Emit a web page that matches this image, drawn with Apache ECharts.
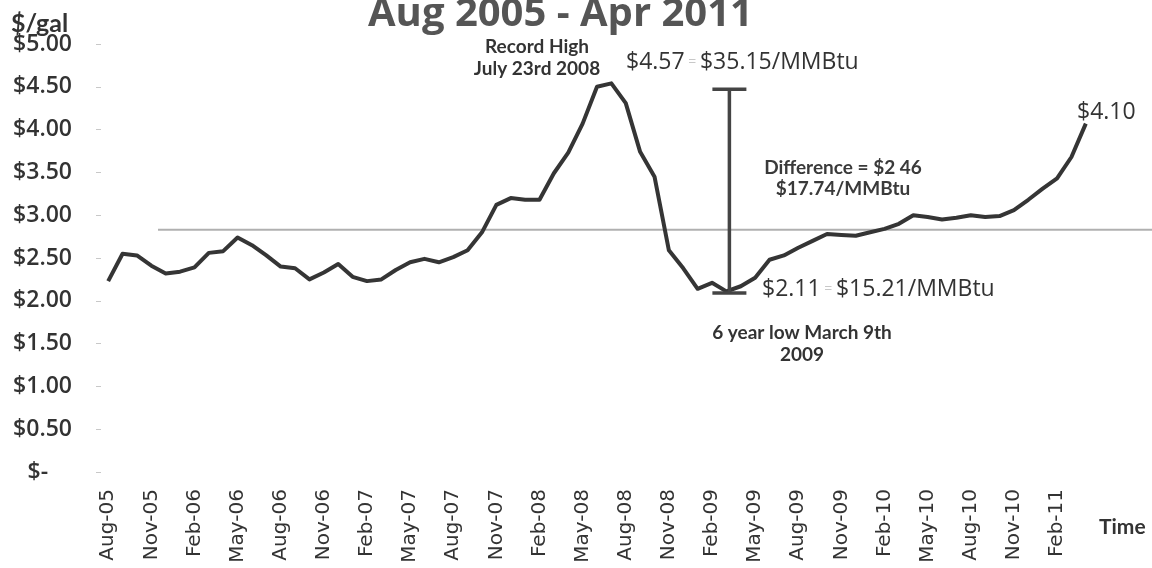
<!DOCTYPE html>
<html><head><meta charset="utf-8">
<script src="https://cdn.jsdelivr.net/npm/echarts@6/dist/echarts.min.js"></script>
<style>html,body{margin:0;padding:0;background:#fff}#c{width:1152px;height:568px}</style>
</head><body><div id="c"></div>
<script>
const months = [
  'Aug-05','Sep-05','Oct-05','Nov-05','Dec-05',
  'Jan-06','Feb-06','Mar-06','Apr-06','May-06','Jun-06','Jul-06','Aug-06','Sep-06','Oct-06','Nov-06','Dec-06',
  'Jan-07','Feb-07','Mar-07','Apr-07','May-07','Jun-07','Jul-07','Aug-07','Sep-07','Oct-07','Nov-07','Dec-07',
  'Jan-08','Feb-08','Mar-08','Apr-08','May-08','Jun-08','Jul-08','Aug-08','Sep-08','Oct-08','Nov-08','Dec-08',
  'Jan-09','Feb-09','Mar-09','Apr-09','May-09','Jun-09','Jul-09','Aug-09','Sep-09','Oct-09','Nov-09','Dec-09',
  'Jan-10','Feb-10','Mar-10','Apr-10','May-10','Jun-10','Jul-10','Aug-10','Sep-10','Oct-10','Nov-10','Dec-10',
  'Jan-11','Feb-11','Mar-11','Apr-11'
];
const prices = [
  2.23, 2.55, 2.53, 2.41, 2.32,
  2.34, 2.39, 2.56, 2.58, 2.74, 2.65, 2.53, 2.40, 2.38, 2.25, 2.33, 2.43,
  2.28, 2.23, 2.25, 2.36, 2.45, 2.49, 2.45, 2.51, 2.59, 2.80, 3.12, 3.20,
  3.18, 3.18, 3.49, 3.73, 4.07, 4.50, 4.54, 4.31, 3.74, 3.45, 2.59, 2.38,
  2.14, 2.21, 2.11, 2.17, 2.27, 2.48, 2.53, 2.62, 2.70, 2.78, 2.77, 2.76,
  2.80, 2.84, 2.90, 3.00, 2.98, 2.95, 2.97, 3.00, 2.98, 2.99, 3.06, 3.18,
  3.31, 3.43, 3.68, 4.07
];
const refValue = 2.83;
const diffIndex = 43;     // Mar-09
const diffHigh = 4.47;
const diffLow = 2.09;
const yMin = 0, yMax = 5, yStep = 0.5;

const chart = echarts.init(document.getElementById('c'), null, {renderer: 'canvas'});
const dark = '#353535';
const gridPos = {left: 101, right: 59, top: 44, bottom: 96};

chart.setOption({
  animation: false,
  backgroundColor: '#ffffff',
  title: [
    {text: 'Aug 2005 - Apr 2011', left: 363, top: -10,
     textStyle: {fontFamily: '"Open Sans"', fontWeight: 700, fontSize: 40, color: '#555555'}},
    {text: '$/gal', left: 6, top: 6,
     textStyle: {fontFamily: 'Lato', fontWeight: 700, fontSize: 25, color: '#333333'}},
    {text: 'Time', left: 1094, top: 512,
     textStyle: {fontFamily: 'Lato', fontWeight: 700, fontSize: 21, color: '#333333'}}
  ],
  grid: [
    Object.assign({}, gridPos),
    {left: 158, right: 0, top: 44, bottom: 96}
  ],
  xAxis: [
    {type: 'category', data: months, boundaryGap: true, gridIndex: 0,
     axisLine: {show: false}, axisTick: {show: false},
     axisLabel: {interval: 2, rotate: 90, margin: 17, color: '#333333',
                 fontFamily: '"DejaVu Sans"', fontSize: 20}},
    {type: 'value', gridIndex: 1, min: 0, max: 1, show: false}
  ],
  yAxis: [
    {type: 'value', gridIndex: 0, min: yMin, max: yMax, interval: yStep,
     axisLine: {show: false},
     axisTick: {show: true, length: 5, lineStyle: {color: '#c8c8c8'}},
     splitLine: {show: false},
     axisLabel: {margin: 29, color: '#333333', fontFamily: '"Open Sans"', fontWeight: 600, fontSize: 23,
                 formatter: v => v === 0 ? '$-    ' : '$' + v.toFixed(2)}},
    {type: 'value', gridIndex: 1, min: yMin, max: yMax, show: false}
  ],
  series: [
    {type: 'line', xAxisIndex: 1, yAxisIndex: 1, z: 1, silent: true,
     data: [[0, refValue], [1, refValue]], symbol: 'none',
     lineStyle: {color: '#b0b0b0', width: 2}},
    {type: 'line', xAxisIndex: 0, yAxisIndex: 0, z: 3, data: prices, symbol: 'none',
     lineStyle: {color: dark, width: 4, join: 'round'}},
    {type: 'custom', xAxisIndex: 0, yAxisIndex: 0, z: 4, clip: false,
     data: [[diffIndex, diffHigh, diffLow]],
     encode: {x: 0, y: [1, 2]},
     renderItem: function (params, api) {
       const t = api.coord([api.value(0), api.value(1)]);
       const b = api.coord([api.value(0), api.value(2)]);
       const hw = 17;
       const st = {stroke: '#444444', lineWidth: 3.5};
       return {type: 'group', children: [
         {type: 'line', shape: {x1: t[0] + 3, y1: t[1], x2: b[0] + 3, y2: b[1]}, style: st},
         {type: 'line', shape: {x1: t[0] + 3 - hw, y1: t[1], x2: t[0] + 3 + hw, y2: t[1]}, style: st},
         {type: 'line', shape: {x1: b[0] + 3 - hw, y1: b[1], x2: b[0] + 3 + hw, y2: b[1]}, style: st}
       ]};
     }}
  ],
  graphic: [
    {type: 'text', x: 537, y: 36, style: {text: 'Record High\nJuly 23rd 2008', align: 'center', verticalAlign: 'top',
      font: '700 19px Lato', fill: '#333333', lineHeight: 22}},
    {type: 'text', left: 626, top: 51, style: {
      text: '{a|$4.57}{e| = }{a|$35.15/MMBtu}',
      rich: {a: {font: '400 23px "Open Sans"', fill: '#333333'}, e: {font: '400 14px "Open Sans"', fill: '#c8c8c8'}}}},
    {type: 'text', left: 1077, top: 101, style: {text: '$4.10', font: '400 23px "Open Sans"', fill: '#333333'}},
    {type: 'text', x: 843, y: 157, style: {text: 'Difference = $2 46\n$17.74/MMBtu', align: 'center', verticalAlign: 'top',
      font: '700 19px Lato', fill: '#3a3a3a', lineHeight: 21}},
    {type: 'text', left: 762, top: 278, style: {
      text: '{a|$2.11}{e| = }{a|$15.21/MMBtu}',
      rich: {a: {font: '400 23px "Open Sans"', fill: '#333333'}, e: {font: '400 14px "Open Sans"', fill: '#c8c8c8'}}}},
    {type: 'text', x: 802, y: 322, style: {text: '6 year low March 9th\n2009', align: 'center', verticalAlign: 'top',
      font: '700 19px Lato', fill: '#333333', lineHeight: 22}}
  ]
});
</script></body></html>
